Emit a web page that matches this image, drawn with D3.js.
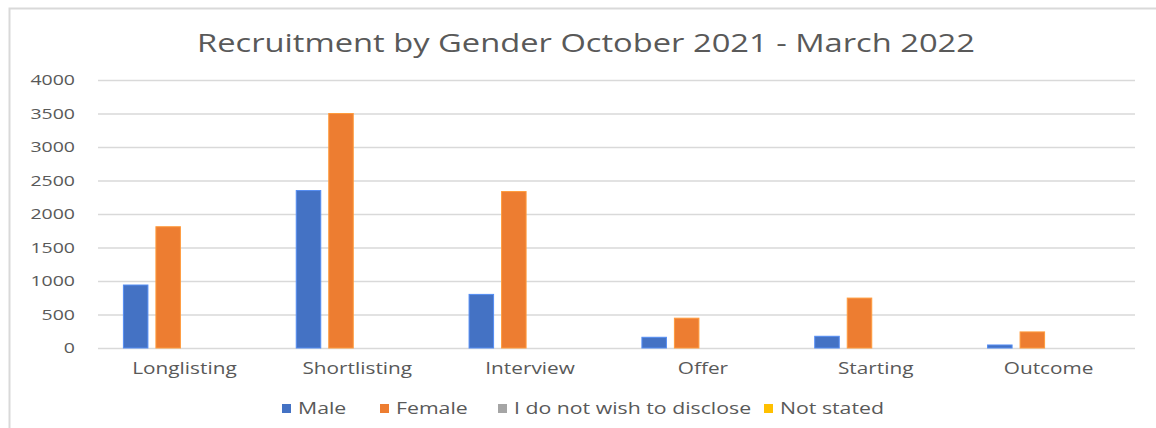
<!DOCTYPE html>
<html>
<head>
<meta charset="utf-8">
<script src="https://cdn.jsdelivr.net/npm/d3@7"></script>
<style>
  html, body { margin: 0; padding: 0; background: #fff; }
  svg { display: block; font-family: "Open Sans", "Noto Sans", sans-serif; }
</style>
</head>
<body>
<svg id="chart" width="1156" height="428"></svg>
<script>
// Recruitment counts by stage and gender
const categories = ["Longlisting", "Shortlisting", "Interview", "Offer", "Starting", "Outcome"];
const seriesNames = ["Male", "Female", "I do not wish to disclose", "Not stated"];
const male = [940, 2350, 800, 160, 175, 45];
const female = [1810, 3500, 2335, 445, 745, 240];
const notDisclosed = [0, 0, 0, 0, 0, 0];
const notStated = [0, 0, 0, 0, 0, 0];
const yTicks = [0, 500, 1000, 1500, 2000, 2500, 3000, 3500, 4000];
const seriesColors = ["#4472C4", "#ED7D31", "#A5A5A5", "#FFC000"];

const seriesValues = [male, female, notDisclosed, notStated];
const rows = categories.map((c, i) => ({ category: c, values: seriesValues.map(s => s[i]) }));

const svg = d3.select("#chart");
const textColor = "#595959";
const gridColor = "#d9d9d9";

// Widen text glyphs horizontally around their anchor point
function stretch(sel, sx) {
  sel.each(function () {
    const t = d3.select(this);
    const x = +t.attr("x") || 0;
    const y = +t.attr("y") || 0;
    t.attr("x", 0).attr("y", 0)
     .attr("transform", `translate(${x},${y}) scale(${sx},1)`);
  });
}

// Outer chart frame
svg.append("rect")
  .attr("x", 9.5).attr("y", 8.5)
  .attr("width", 1200).attr("height", 500)
  .attr("fill", "none").attr("stroke", gridColor).attr("stroke-width", 2);

const plot = { left: 98, right: 1135, top: 80, bottom: 348 };

const y = d3.scaleLinear().domain([0, 4000]).range([plot.bottom, plot.top]);
const x0 = d3.scaleBand().domain(categories).range([plot.left, plot.right])
  .paddingInner(0.294).paddingOuter(0.147);
const x1 = d3.scaleBand().domain(d3.range(seriesNames.length)).range([0, x0.bandwidth()])
  .paddingInner(0.246);

// Gridlines + y-axis labels
const yAxis = d3.axisLeft(y).tickValues(yTicks).tickFormat(d3.format("d"))
  .tickSize(-(plot.right - plot.left)).tickPadding(23);
const yg = svg.append("g").attr("transform", `translate(${plot.left},0)`).call(yAxis);
yg.select(".domain").remove();
yg.selectAll(".tick line").attr("stroke", gridColor).attr("stroke-width", 1.5);
yg.selectAll(".tick text").attr("fill", textColor).attr("font-size", 15)
  .attr("font-family", "'Open Sans', sans-serif").call(stretch, 1.3);

// Bars
const groups = svg.append("g").selectAll("g").data(rows).join("g")
  .attr("transform", d => `translate(${x0(d.category)},0)`);
groups.selectAll("rect")
  .data(d => d.values.map((v, i) => ({ v, i })))
  .join("rect")
  .attr("x", d => x1(d.i))
  .attr("width", x1.bandwidth())
  .attr("y", d => y(d.v))
  .attr("height", d => y(0) - y(d.v))
  .attr("fill", d => seriesColors[d.i])
  .attr("stroke", d => d3.color(seriesColors[d.i]).brighter(0.6))
  .attr("stroke-width", d => d.v > 0 ? 1 : 0);

// Category axis labels
const xAxis = d3.axisBottom(x0).tickSize(0).tickPadding(15);
const xg = svg.append("g").attr("transform", `translate(0,${plot.bottom})`).call(xAxis);
xg.select(".domain").remove();
xg.selectAll(".tick text").attr("fill", textColor).attr("font-size", 16)
  .attr("font-family", "'Open Sans', sans-serif").call(stretch, 1.3);

// Title
svg.append("text")
  .attr("x", 197).attr("y", 52)
  .attr("font-size", 25).attr("fill", textColor)
  .attr("textLength", 778).attr("lengthAdjust", "spacingAndGlyphs")
  .text("Recruitment by Gender October 2021 - March 2022");

// Legend
const legendStarts = [282, 380, 498, 764];
const legend = svg.append("g").selectAll("g").data(seriesNames).join("g")
  .attr("transform", (d, i) => `translate(${legendStarts[i]},0)`);
legend.append("rect")
  .attr("x", 0).attr("y", 404).attr("width", 9).attr("height", 9)
  .attr("fill", (d, i) => seriesColors[i]);
legend.append("text")
  .attr("x", 16).attr("y", 414)
  .attr("font-size", 16).attr("fill", textColor)
  .text(d => d)
  .call(stretch, 1.33);
</script>
</body>
</html>
